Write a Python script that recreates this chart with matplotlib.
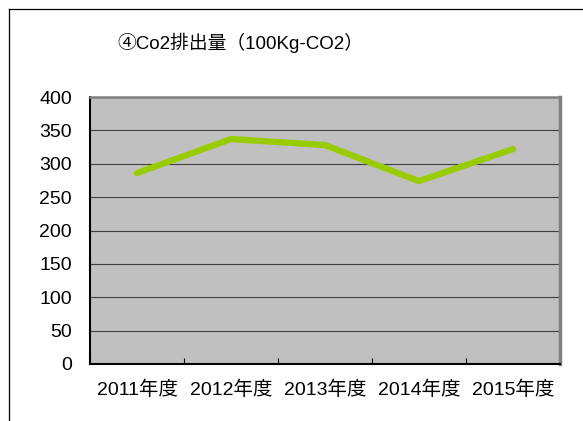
import matplotlib

matplotlib.use("Agg")
import matplotlib.pyplot as plt
from matplotlib.lines import Line2D

plt.rcParams["font.family"] = ["Liberation Sans", "Noto Sans CJK JP", "DejaVu Sans"]

YEARS = ["2011年度", "2012年度", "2013年度", "2014年度", "2015年度"]
CO2 = [286, 337, 328, 274, 322]
YTICKS = [0, 50, 100, 150, 200, 250, 300, 350, 400]
TITLE = "④Co2排出量（100Kg-CO2）"

W, H = 583, 421
fig = plt.figure(figsize=(W / 100, H / 100), dpi=100)
fig.patch.set_facecolor("white")

# outer chart border (only left/top visible in the crop)
bx, by = 8.5 / W, 1 - 8.5 / H
fig.add_artist(Line2D([bx, bx], [0, by], transform=fig.transFigure, color="black", lw=0.9))
fig.add_artist(Line2D([bx, 1], [by, by], transform=fig.transFigure, color="black", lw=0.9))

ax = fig.add_axes([90 / W, (H - 364) / H, 470 / W, 267 / H])
ax.set_facecolor("#c0c0c0")

x = range(len(YEARS))
ax.plot(x, CO2, color="#99cc00", lw=4.5, solid_capstyle="round", solid_joinstyle="miter", zorder=3)

ax.set_xlim(-0.5, len(YEARS) - 0.5)
ax.set_ylim(0, 400)
ax.set_yticks(YTICKS)
ax.set_xticks(list(x))
ax.set_xticklabels(YEARS)
ax.set_xticks([i - 0.5 for i in range(len(YEARS) + 1)], minor=True)
ax.tick_params(axis="x", which="major", length=0, pad=12, labelsize=14)
ax.tick_params(axis="x", which="minor", direction="in", length=4, width=0.8, color="black")
ax.tick_params(axis="y", length=0, pad=13, labelsize=14)

ax.grid(axis="y", color="#404040", lw=0.8)
ax.set_axisbelow(True)

for s in ("left", "bottom"):
    ax.spines[s].set_color("black")
    ax.spines[s].set_linewidth(1.5)
ax.spines["top"].set_color("#808080")
ax.spines["top"].set_linewidth(1.8)
ax.spines["right"].set_color("#808080")
ax.spines["right"].set_linewidth(2.5)

fig.text(240 / W, 1 - 43 / H, TITLE, ha="center", va="center", fontsize=13.5)

fig.savefig("out.png", dpi=100)
